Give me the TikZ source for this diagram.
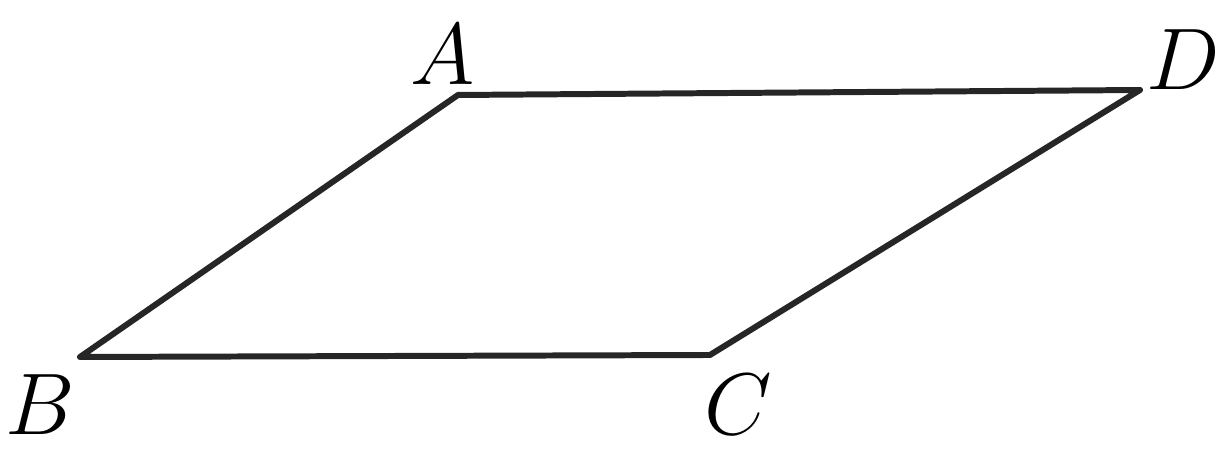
\documentclass[tikz,border=0pt]{standalone}
\usepackage{amsmath}
\usepackage{tikz}
\usetikzlibrary{positioning}
\tikzset{
  % Base styles
  figure base/.style={
    x=0.01cm, y=0.01cm,
  },
  % Edges and labels
  side line/.style={draw=black!85, line width=1.7pt, line join=round, line cap=round},
  vertex label/.style={inner sep=0pt, font=\fontsize{24}{28}\selectfont},
}

\begin{document}
\begin{tikzpicture}[figure base]
\useasboundingbox (0,0) rectangle (1229,461);

% Vertices of the parallelogram
\coordinate (A) at (458,366);
\coordinate (D) at (1140,371);
\coordinate (B) at (80,104);
\coordinate (C) at (710,106);

% Sides
\draw[side line] (A) -- (D) -- (C) -- (B) -- cycle;

% Vertex labels
\node[vertex label] (lA) at (443,406) {$A$};
\node[vertex label] (lD) at (1183,401) {$D$};
\node[vertex label] (lB) at (40,56) {$B$};
\node[vertex label] (lC) at (738,56) {$C$};
\end{tikzpicture}
\end{document}
